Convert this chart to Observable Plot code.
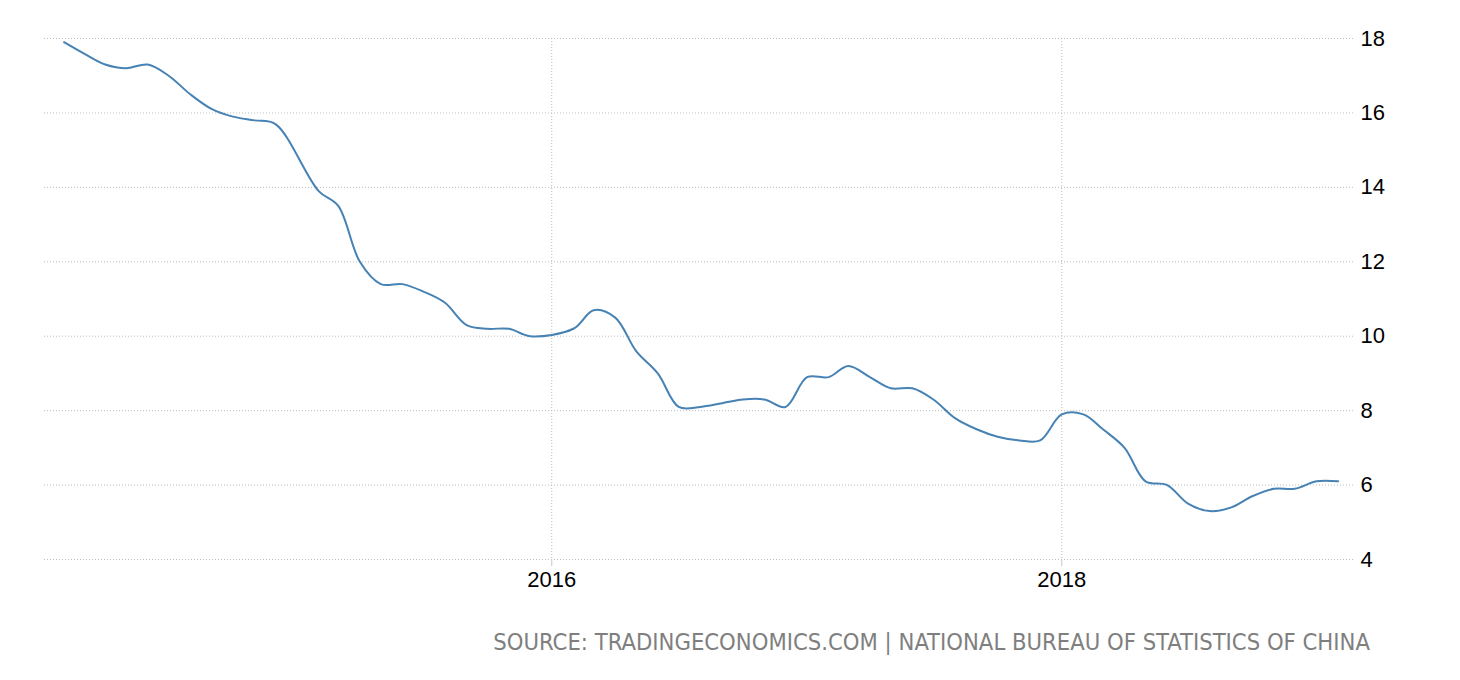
<!DOCTYPE html>
<html>
<head>
<meta charset="utf-8">
<script src="https://cdn.jsdelivr.net/npm/d3@7"></script>
<script src="https://cdn.jsdelivr.net/npm/@observablehq/plot@0.6"></script>
<style>
  html, body { margin: 0; padding: 0; background: #fff; }
  #wrap { position: relative; width: 1460px; height: 680px; }
  #caption {
    position: absolute; right: 90px; top: 629px;
    font-family: "DejaVu Sans Condensed", "DejaVu Sans", sans-serif;
    font-size: 20px; line-height: 26px; color: #7f7f7f; white-space: nowrap;
  }
</style>
</head>
<body>
<div id="wrap">
  <div id="chart"></div>
  <div id="caption">SOURCE: TRADINGECONOMICS.COM | NATIONAL BUREAU OF STATISTICS OF CHINA</div>
</div>
<script>
// Monthly data (year-to-date growth, %)
const dates = [
  "2014-02-01","2014-03-01","2014-04-01","2014-05-01","2014-06-01","2014-07-01","2014-08-01","2014-09-01","2014-10-01","2014-11-01","2014-12-01",
  "2015-02-01","2015-03-01","2015-04-01","2015-05-01","2015-06-01","2015-07-01","2015-08-01","2015-09-01","2015-10-01","2015-11-01","2015-12-01",
  "2016-02-01","2016-03-01","2016-04-01","2016-05-01","2016-06-01","2016-07-01","2016-08-01","2016-09-01","2016-10-01","2016-11-01","2016-12-01",
  "2017-01-01","2017-02-01","2017-03-01","2017-04-01","2017-05-01","2017-06-01","2017-07-01","2017-08-01","2017-09-01","2017-10-01","2017-11-01","2017-12-01",
  "2018-01-01","2018-02-01","2018-03-01","2018-04-01","2018-05-01","2018-06-01","2018-07-01","2018-08-01","2018-09-01","2018-10-01","2018-11-01","2018-12-01",
  "2019-01-01","2019-02-01"
];
const values = [
  17.9,17.6,17.3,17.2,17.3,17.0,16.5,16.1,15.9,15.8,15.7,
  13.9,13.5,12.0,11.4,11.4,11.2,10.9,10.3,10.2,10.2,10.0,
  10.2,10.7,10.5,9.6,9.0,8.1,8.1,8.2,8.3,8.3,8.1,
  8.9,8.9,9.2,8.9,8.6,8.6,8.3,7.8,7.5,7.3,7.2,7.2,
  7.9,7.9,7.5,7.0,6.1,6.0,5.5,5.3,5.4,5.7,5.9,5.9,
  6.1,6.1
];
const yTicks = [4, 6, 8, 10, 12, 14, 16, 18];
const xTickDates = ["2016-01-01", "2018-01-01"];
const xDomain = ["2014-01-04", "2019-02-26"];

const data = dates.map((d, i) => ({date: new Date(d), value: values[i]}));
const xTicks = xTickDates.map(d => new Date(d));

const chart = Plot.plot({
  width: 1460,
  height: 600,
  marginTop: 38,
  marginBottom: 41,
  marginLeft: 44,
  marginRight: 105,
  style: {fontFamily: "'Liberation Sans', Arial, sans-serif", fontSize: "22px", color: "#000", background: "#fff", overflow: "visible"},
  x: {type: "utc", domain: xDomain.map(d => new Date(d))},
  y: {domain: [4, 18]},
  marks: [
    Plot.gridY(yTicks, {stroke: "#bdbdbd", strokeOpacity: 1, strokeDasharray: "1,2"}),
    Plot.gridX(xTicks, {stroke: "#bdbdbd", strokeOpacity: 1, strokeDasharray: "1,2"}),
    Plot.axisY(yTicks, {anchor: "right", tickSize: 0, tickPadding: 5, label: null, fill: "#000", fontSize: 22}),
    Plot.axisX(xTicks, {anchor: "bottom", tickSize: 7, tickPadding: 5, label: null, stroke: "#c8c8c8", strokeOpacity: 1,
      tickFormat: d => String(d.getUTCFullYear()), fill: "#000", fontSize: 22}),
    Plot.lineY(data, {x: "date", y: "value", stroke: "#4682b4", strokeWidth: 2, curve: "catmull-rom"})
  ]
});
document.getElementById("chart").appendChild(chart);

// fit caption width to the reference (~877px)
const cap = document.getElementById("caption");
const w = cap.getBoundingClientRect().width;
if (w > 0) cap.style.fontSize = (20 * 877 / w).toFixed(2) + "px";
</script>
</body>
</html>
